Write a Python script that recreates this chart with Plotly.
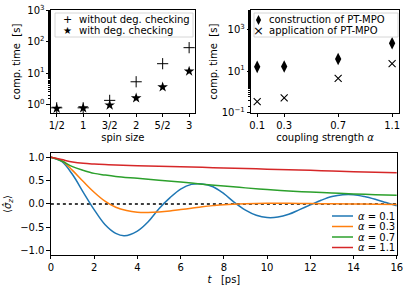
import plotly.graph_objects as go

# --- top-left: computation time vs spin size
spin_vals = [0.5, 1.0, 1.5, 2.0, 2.5, 3.0]
spin_labels = ["1/2", "1", "3/2", "2", "5/2", "3"]
time_without = [0.78, 0.78, 1.35, 5.3, 20.0, 65.0]
time_with = [0.75, 0.77, 0.95, 1.6, 3.6, 11.5]

# --- top-right: computation time vs coupling strength
alpha_vals = [0.1, 0.3, 0.7, 1.1]
alpha_labels = ["0.1", "0.3", "0.7", "1.1"]
time_construct = [16.0, 16.5, 38.0, 215.0]
time_apply = [0.35, 0.52, 4.5, 23.0]

# --- bottom: <sigma_z> dynamics
t_blue = [0, 0.5, 1.0, 1.5, 2.0, 2.5, 3.0, 3.4, 4.0, 4.5, 5.0, 5.5, 6.0, 6.5, 7.0, 7.5, 8.0,
          8.5, 9.0, 9.5, 10.0, 10.5, 11.0, 11.5, 12.0, 12.5, 13.0, 13.5, 14.0, 14.5, 15.0, 15.5, 16.0]
sz_01 = [1.0, 0.91, 0.63, 0.25, -0.12, -0.44, -0.63, -0.68, -0.58, -0.38, -0.10, 0.13, 0.32, 0.42,
         0.43, 0.37, 0.22, 0.03, -0.13, -0.24, -0.29, -0.28, -0.22, -0.12, -0.02, 0.08, 0.16, 0.20,
         0.20, 0.16, 0.10, 0.03, -0.04]
t_orange = [0, 0.5, 1.0, 1.5, 2.0, 2.5, 3.0, 3.5, 4.0, 4.5, 5.0, 5.5, 6.0, 6.5, 7.0, 7.5, 8.0,
            9.0, 10.0, 11.0, 12.0, 13.0, 14.0, 15.0, 16.0]
sz_03 = [1.0, 0.93, 0.72, 0.48, 0.25, 0.06, -0.07, -0.14, -0.175, -0.18, -0.17, -0.15, -0.12,
         -0.09, -0.06, -0.035, -0.015, 0.005, 0.015, 0.015, 0.01, 0.005, 0.0, -0.005, -0.01]
t_slow = [0, 0.5, 1.0, 1.5, 2.0, 2.5, 3.0, 4.0, 5.0, 6.0, 7.0, 8.0, 9.0, 10.0, 11.0, 12.0, 13.0,
          14.0, 15.0, 16.0]
sz_07 = [1.0, 0.92, 0.80, 0.72, 0.655, 0.62, 0.59, 0.55, 0.51, 0.47, 0.425, 0.385, 0.345, 0.31,
         0.28, 0.255, 0.235, 0.215, 0.20, 0.185]
sz_11 = [1.0, 0.95, 0.90, 0.87, 0.855, 0.845, 0.835, 0.82, 0.81, 0.795, 0.785, 0.77, 0.76, 0.745,
         0.735, 0.72, 0.705, 0.69, 0.68, 0.667]

legend_tl = ["without deg. checking", "with deg. checking"]
legend_tr = ["construction of PT-MPO", "application of PT-MPO"]
legend_b = ["0.1", "0.3", "0.7", "1.1"]

FONT = "DejaVu Sans"
font = dict(family=FONT, size=10, color="black")
W, H = 407, 291
colors = ["#1f77b4", "#ff7f0e", "#2ca02c", "#d62728"]

fig = go.Figure()

# top-left
fig.add_trace(go.Scatter(x=spin_vals, y=time_without, mode="markers", showlegend=False,
                         marker=dict(symbol="cross-thin", size=8, color="black",
                                     line=dict(width=1, color="black")),
                         xaxis="x", yaxis="y"))
fig.add_trace(go.Scatter(x=spin_vals, y=time_with, mode="markers", showlegend=False,
                         marker=dict(symbol="star", size=8, color="black", line=dict(width=0)),
                         xaxis="x", yaxis="y"))
# top-right
fig.add_trace(go.Scatter(x=alpha_vals, y=time_construct, mode="markers", showlegend=False,
                         marker=dict(symbol="diamond-tall", size=9, color="black", line=dict(width=0)),
                         xaxis="x2", yaxis="y2"))
fig.add_trace(go.Scatter(x=alpha_vals, y=time_apply, mode="markers", showlegend=False,
                         marker=dict(symbol="x-thin", size=7, color="black",
                                     line=dict(width=1.1, color="black")),
                         xaxis="x2", yaxis="y2"))
# bottom
fig.add_trace(go.Scatter(x=[0, 16], y=[0, 0], mode="lines", showlegend=False,
                         line=dict(color="black", width=1.5, dash="dot"),
                         xaxis="x3", yaxis="y3"))
for tx, sy, c in zip([t_blue, t_orange, t_slow, t_slow], [sz_01, sz_03, sz_07, sz_11], colors):
    fig.add_trace(go.Scatter(x=tx, y=sy, mode="lines", showlegend=False,
                             line=dict(color=c, width=1.5, shape="spline", smoothing=1.0),
                             xaxis="x3", yaxis="y3"))

axcommon = dict(showline=True, linecolor="black", linewidth=0.8, mirror=True, ticks="outside",
                ticklen=3.5, tickwidth=0.8, tickcolor="black", showgrid=False, zeroline=False,
                tickfont=font, automargin=False)
minor = dict(ticks="outside", ticklen=2, tickcolor="black", tickwidth=0.6, showgrid=False)

fig.update_layout(
    template="none",
    width=W, height=H, margin=dict(l=0, r=0, t=0, b=0, autoexpand=False),
    paper_bgcolor="white", plot_bgcolor="white", font=font, showlegend=False,
    xaxis=dict(domain=[0.125, 0.479], anchor="y", range=[0.39, 3.11],
               tickvals=spin_vals, ticktext=spin_labels,
               title=dict(text="spin size", font=font, standoff=3), **axcommon),
    yaxis=dict(domain=[0.612, 0.964], anchor="x", type="log", range=[-0.27, 3.0],
               tickvals=[1, 10, 100, 1000],
               ticktext=["10<sup>0</sup>", "10<sup>1</sup>", "10<sup>2</sup>", "10<sup>3</sup>"],
               minor=minor,
               title=dict(text="comp. time  [s]", font=font, standoff=4), **axcommon),
    xaxis2=dict(domain=[0.617, 0.980], anchor="y2", range=[0.055, 1.15],
                tickvals=alpha_vals, ticktext=alpha_labels,
                title=dict(text="coupling strength <i>α</i>", font=font, standoff=3), **axcommon),
    yaxis2=dict(domain=[0.612, 0.964], anchor="x2", type="log", range=[-1, 3.9],
                tickvals=[0.1, 10, 1000],
                ticktext=["10<sup>−1</sup>", "10<sup>1</sup>", "10<sup>3</sup>"],
                minor=minor,
                title=dict(text="comp. time  [s]", font=font, standoff=2), **axcommon),
    xaxis3=dict(domain=[0.125, 0.975], anchor="y3", range=[0, 16], dtick=2,
                title=dict(text="<i>t</i>   [ps]", font=font, standoff=3), **axcommon),
    yaxis3=dict(domain=[0.124, 0.474], anchor="x3", range=[-1.09, 1.09],
                tickvals=[-1, -0.5, 0, 0.5, 1], ticktext=["−1.0", "−0.5", "0.0", "0.5", "1.0"],
                title=dict(text="⟨<i>σ̂<sub>z</sub></i>⟩", font=font, standoff=6), **axcommon),
)

shapes = []
annotations = []

def px(x):
    return x / W

def py(y):
    return 1 - y / H

# legend boxes (top-left and top-right)
for (x0, y0, x1, y1) in [(55, 13, 193, 37), (254, 13, 398, 37)]:
    shapes.append(dict(type="rect", xref="paper", yref="paper", x0=px(x0), x1=px(x1),
                       y0=py(y1), y1=py(y0), line=dict(color="#cccccc", width=0.8),
                       fillcolor="rgba(255,255,255,0.8)", layer="above"))

lf = dict(family=FONT, size=10, color="black")
# top-left legend entries
rows_tl = [20, 30.5]
for txt, sym, yy in zip(legend_tl, ["+", "★"], rows_tl):
    annotations.append(dict(xref="paper", yref="paper", x=px(67), y=py(yy), text=sym,
                            showarrow=False, xanchor="center", yanchor="middle",
                            font=dict(family=FONT, size=11 if sym == "+" else 10, color="black")))
    annotations.append(dict(xref="paper", yref="paper", x=px(77), y=py(yy), text=txt,
                            showarrow=False, xanchor="left", yanchor="middle", font=lf))
# top-right legend entries
rows_tr = [20, 30.5]
dx, dy = 2.6, 5.0
cx, cy = 258.5, rows_tr[0]
shapes.append(dict(type="path", xref="paper", yref="paper",
                   path=(f"M {px(cx)},{py(cy - dy)} L {px(cx + dx)},{py(cy)} "
                         f"L {px(cx)},{py(cy + dy)} L {px(cx - dx)},{py(cy)} Z"),
                   fillcolor="black", line=dict(width=0), layer="above"))
annotations.append(dict(xref="paper", yref="paper", x=px(258.5), y=py(rows_tr[1]), text="×",
                        showarrow=False, xanchor="center", yanchor="middle",
                        font=dict(family=FONT, size=13, color="black")))
for txt, yy in zip(legend_tr, rows_tr):
    annotations.append(dict(xref="paper", yref="paper", x=px(267), y=py(yy), text=txt,
                            showarrow=False, xanchor="left", yanchor="middle", font=lf))

# bottom legend
rows_b = [216, 226.5, 237, 247.5]
for lab, c, yy in zip(legend_b, colors, rows_b):
    shapes.append(dict(type="line", xref="paper", yref="paper", x0=px(332), x1=px(353),
                       y0=py(yy), y1=py(yy), line=dict(color=c, width=1.5), layer="above"))
    annotations.append(dict(xref="paper", yref="paper", x=px(356), y=py(yy),
                            text="<i>α</i> = " + lab, showarrow=False, xanchor="left",
                            yanchor="middle", font=lf))

fig.update_layout(shapes=shapes, annotations=annotations)
fig.write_html("out.html", config={"displayModeBar": False},
               post_script="document.body.style.margin='0';document.body.style.overflow='hidden';")
